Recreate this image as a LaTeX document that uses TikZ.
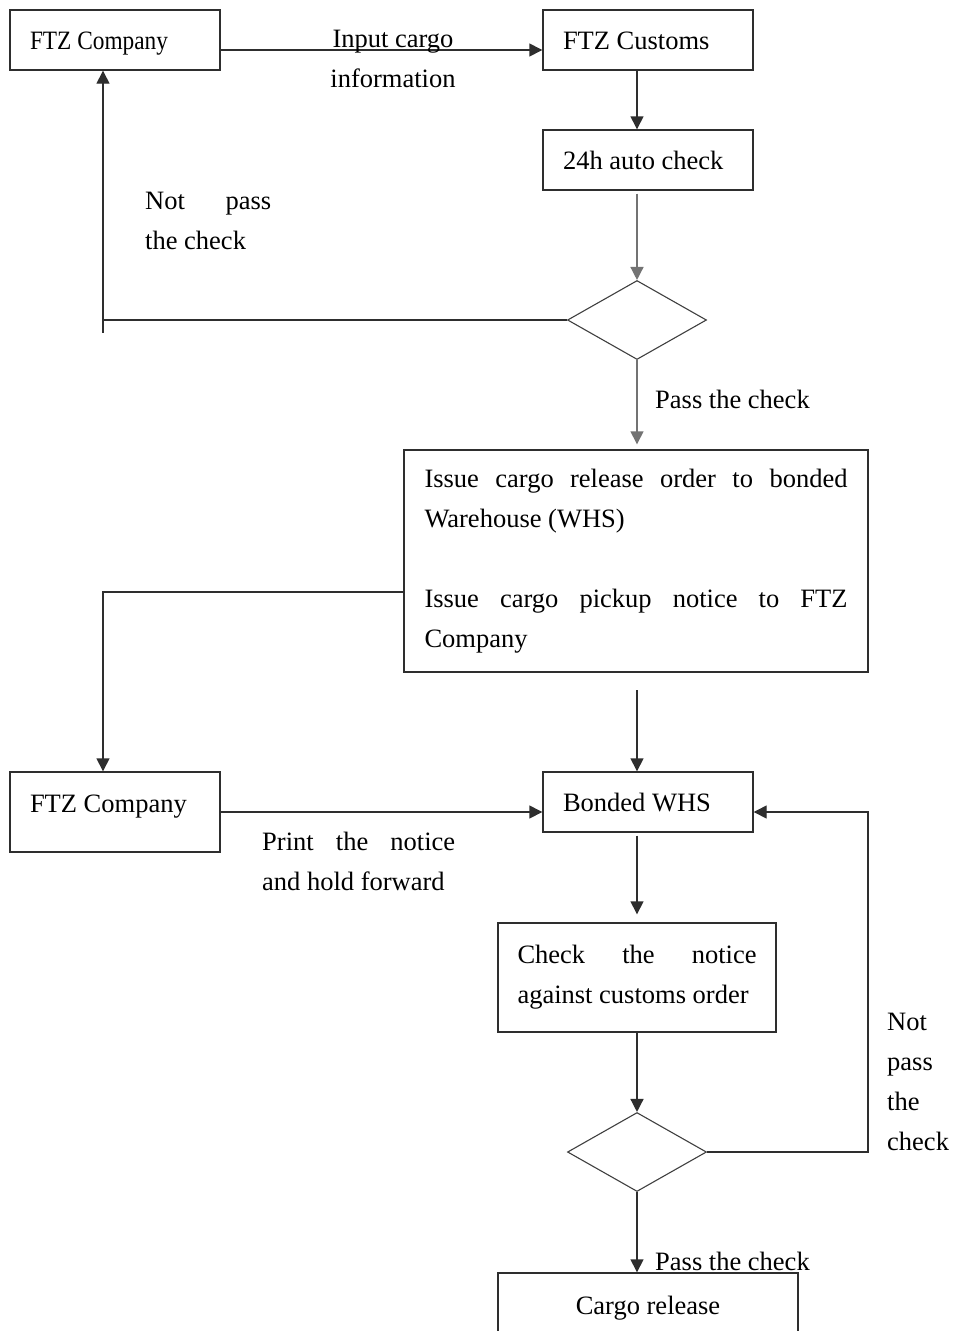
\documentclass[tikz,border=0pt]{standalone}
\usepackage{fontspec}
\usepackage{graphicx}
\setmainfont{Liberation Serif}
\usetikzlibrary{shapes.geometric,arrows.meta,calc}
% stretch the word gaps of one line so that it fills the given width
\newcommand\spreadline[2]{\makebox[#1][s]{\spaceskip=0pt\xspaceskip=0pt #2}}
\tikzset{
  ink/.style={draw=black!82, line width=1.4pt},
  flowbox/.style={ink, rectangle, inner ysep=0pt, inner xsep=20pt,
    minimum height=60pt, text height=18pt, text depth=0pt, align=left},
  notebox/.style={ink, rectangle, inner ysep=0pt, align=left},
  decision/.style={draw=black!75, line width=1.1pt, diamond, inner sep=0pt,
    minimum width=139pt, minimum height=79pt},
  flow/.style={ink, -{Triangle[length=13pt,width=13pt]}},
  paleflow/.style={flow, draw=black!55},
  tag/.style={inner sep=0pt, anchor=north west, align=left},
}
\begin{document}
\begin{tikzpicture}[x=1pt, y=-1pt, font=\fontsize{26.5}{40}\selectfont,
  execute at begin node={\spaceskip=0pt\xspaceskip=0pt}]
\useasboundingbox (0,0) rectangle (953,1331);
\clip (0,0) rectangle (953,1331);
\fill[white] (0,0) rectangle (953,1331);

% ---- declaration and automatic check
\node[flowbox, text width=170pt] (coTop) at (115,40) {\scalebox{0.88}[1]{FTZ Company}};
\node[flowbox, text width=170pt] (customs) at (648,40) {FTZ Customs};
\node[flowbox, text width=170pt] (auto) at (648,160) {24h auto check};
\node[decision] (chk1) at (637,320) {};
\node[notebox, inner xsep=20.5pt, text width=423pt, minimum height=222pt] (issue) at (636,561)
  {\spreadline{423pt}{Issue cargo release order to bonded}\\
   Warehouse (WHS)\\[40pt]
   \spreadline{423pt}{Issue cargo pickup notice to FTZ}\\
   Company};

% ---- pickup at the bonded warehouse
\node[flowbox, text width=170pt, minimum height=80pt, text depth=18pt] (coBot) at (115,812) {FTZ Company};
\node[flowbox, text width=170pt] (whs) at (648,802) {Bonded WHS};
\node[notebox, inner xsep=19.5pt, text width=239pt, minimum height=109pt] (match) at (637,977.5)
  {\spreadline{239pt}{Check the notice}\\against customs order};
\node[decision] (chk2) at (637,1152) {};
\node[flowbox, align=center, minimum width=300pt, minimum height=64pt] (release) at (648,1305) {Cargo release};

% ---- helper points for the bent connectors
\coordinate (bend1) at (103,320);
\coordinate (bend2) at (103,592);
\coordinate (bend3) at (868,1152);
\coordinate (gap) at (637,690);
\coordinate (whsIn) at ([yshift=-10pt]whs.east);

% ---- connectors
\draw[flow] ([yshift=-10pt]coTop.east) -- ([yshift=-10pt]customs.west);
\draw[flow] (customs.south -| chk1.north) -- (auto.north -| chk1.north);
\draw[paleflow] ([yshift=-3pt]auto.south -| chk1.north) -- (chk1.north);
\draw[paleflow, shorten >=5pt] (chk1.south) -- (chk1.south |- issue.north);
\draw[ink] (chk1.west) -- (bend1) -- ++(0,13);
\draw[flow] (bend1) -- (bend1 |- coTop.south);

\draw[flow] ([yshift=-31pt]issue.west) -- (bend2) -- (bend2 |- coBot.north);
\draw[flow] (gap) -- (gap |- whs.north);
\draw[flow] (coBot.east) -- (coBot.east -| whs.west);
\draw[flow, shorten >=8pt] ([yshift=-3pt]whs.south -| chk2.north) -- (match.north -| chk2.north);
\draw[flow] (match.south -| chk2.north) -- (chk2.north);
\draw[flow] (chk2.south) -- (chk2.south |- release.north);
\draw[flow] (chk2.east) -- (bend3) -- (bend3 |- whsIn) -- (whsIn);

% ---- connector labels
\node[tag, anchor=north, align=center] (lblInput) at (393,30) {Input cargo\\information};
\node[tag] (lblNo1) at (145,192) {\spreadline{126pt}{Not pass}\\the check};
\node[tag] (lblYes1) at (655,390) {Pass the check};
\node[tag] (lblPrint) at (262,832) {\spreadline{193pt}{Print the notice}\\and hold forward};
\node[tag] (lblNo2) at (887,1013) {Not\\pass\\the\\check};
\node[tag] (lblYes2) at (655,1252) {Pass the check};
\end{tikzpicture}
\end{document}
